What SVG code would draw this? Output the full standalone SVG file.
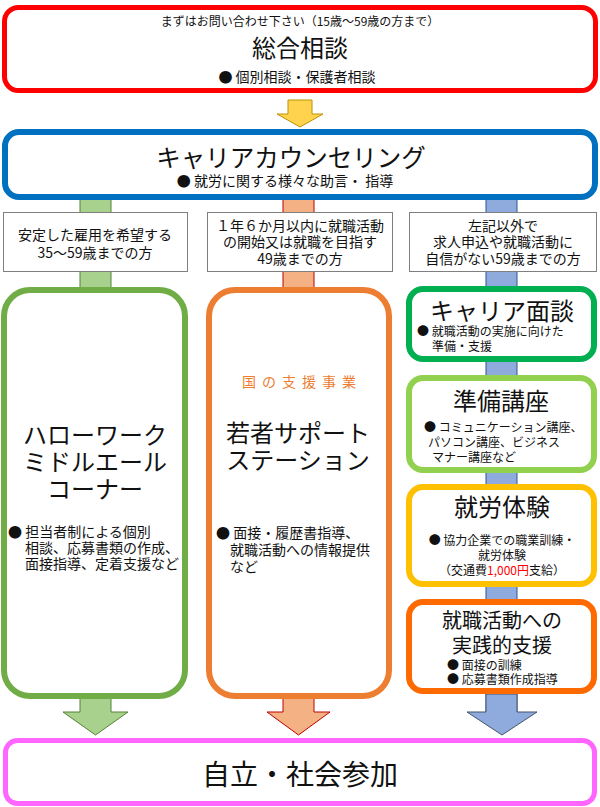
<svg xmlns="http://www.w3.org/2000/svg" width="600" height="807" viewBox="0 0 600 807">
<style>
text{font-family:"Noto Sans CJK JP","Noto Sans",sans-serif;fill:#111;}
.c{text-anchor:middle;}
.box{fill:#fff;}
.cond{fill:#fff;stroke:#7f7f7f;stroke-width:1;}
.s12{font-size:12px;}
.s14{font-size:14px;}
.s24{font-size:24px;}
</style>
<rect width="600" height="807" fill="#fff"/>
<g id="connectors">
  <polygon points="288,100 312,100 312,114 323,114 300,127 277,114 288,114" fill="#FFD34D" stroke="#BF9000" stroke-width="1"/>
  <rect x="80" y="198" width="31" height="94" fill="#A9D18E" stroke="#548235" stroke-width="1"/>
  <rect x="283" y="198" width="31" height="94" fill="#F4B183" stroke="#C00000" stroke-width="1"/>
  <rect x="486" y="198" width="31" height="516" fill="#8FAADC" stroke="#2F5597" stroke-width="1"/>
  <polygon points="80,696 111,696 111,712 128,712 95.5,735 63,712 80,712" fill="#A9D18E" stroke="#548235" stroke-width="1"/>
  <polygon points="283,696 314,696 314,712 330,712 298.5,735 267,712 283,712" fill="#F4B183" stroke="#C00000" stroke-width="1"/>
  <polygon points="486,694 517,694 517,712 537,712 502,735 467,712 486,712" fill="#8FAADC" stroke="#44546A" stroke-width="1"/>
</g>
<g id="sougou">
  <rect class="box" x="4.5" y="7.5" width="591" height="83" rx="14" stroke="#FF0000" stroke-width="5"/>
  <text class="c s12" x="300" y="26">まずはお問い合わせ下さい（15歳～59歳の方まで）</text>
  <text class="c s24" x="300" y="57">総合相談</text>
  <text class="c s14" x="297" y="82">● 個別相談・保護者相談</text>
</g>
<g id="career-counseling">
  <rect class="box" x="5" y="132" width="590" height="65" rx="14" stroke="#0070C0" stroke-width="6"/>
  <text class="c" x="291" y="167" font-size="24.5">キャリアカウンセリング</text>
  <text class="c s14" x="285" y="186">● 就労に関する様々な助言・ 指導</text>
</g>
<g id="cond1">
  <rect class="cond" x="3.5" y="212.5" width="184" height="59"/>
  <text class="c s14" x="95" y="240">安定した雇用を希望する</text>
  <text class="c s14" x="95" y="258">35～59歳までの方</text>
</g>
<g id="cond2">
  <rect class="cond" x="207.5" y="212.5" width="185" height="59"/>
  <text class="c s14" x="300" y="231">１年６か月以内に就職活動</text>
  <text class="c s14" x="300" y="247">の開始又は就職を目指す</text>
  <text class="c s14" x="300" y="264">49歳までの方</text>
</g>
<g id="cond3">
  <rect class="cond" x="409.5" y="212.5" width="187" height="59"/>
  <text class="c s14" x="503" y="231">左記以外で</text>
  <text class="c s14" x="503" y="247">求人申込や就職活動に</text>
  <text class="c s14" x="503" y="264">自信がない59歳までの方</text>
</g>
<g id="hellowork">
  <rect class="box" x="4" y="290" width="181" height="406" rx="26" stroke="#70AD47" stroke-width="6"/>
  <text class="c s24" x="95" y="444">ハローワーク</text>
  <text class="c s24" x="95" y="471">ミドルエール</text>
  <text class="c s24" x="95" y="498">コーナー</text>
  <text class="s14" x="8" y="537">● 担当者制による個別</text>
  <text class="s14" x="25" y="553">相談、応募書類の作成、</text>
  <text class="s14" x="25" y="569">面接指導、定着支援など</text>
</g>
<g id="saposute">
  <rect class="box" x="209" y="290" width="180" height="406" rx="26" stroke="#ED7D31" stroke-width="6"/>
  <text class="c s14" x="302" y="387" letter-spacing="6" style="fill:#ED7D31">国の支援事業</text>
  <text class="c s24" x="298" y="442">若者サポート</text>
  <text class="c s24" x="298" y="469">ステーション</text>
  <text class="s14" x="216" y="538">● 面接・履歴書指導、</text>
  <text class="s14" x="230" y="555">就職活動への情報提供</text>
  <text class="s14" x="230" y="572">など</text>
</g>
<g id="career-mendan">
  <rect class="box" x="409" y="289" width="185" height="70" rx="14" stroke="#00B050" stroke-width="6"/>
  <text class="c s24" x="502" y="320">キャリア面談</text>
  <text class="s12" x="417" y="336">● 就職活動の実施に向けた</text>
  <text class="s12" x="432" y="351">準備・支援</text>
</g>
<g id="junbi">
  <rect class="box" x="409" y="378" width="185" height="92" rx="14" stroke="#92D050" stroke-width="6"/>
  <text class="c s24" x="501" y="410">準備講座</text>
  <text class="s12" x="424" y="432">● コミュニケーション講座、</text>
  <text class="s12" x="428" y="447">パソコン講座、ビジネス</text>
  <text class="s12" x="432" y="462">マナー講座など</text>
</g>
<g id="shurou">
  <rect class="box" x="409" y="487" width="185" height="97" rx="14" stroke="#FFC000" stroke-width="6"/>
  <text class="c s24" x="502" y="516">就労体験</text>
  <text class="c s12" x="502" y="545">● 協力企業での職業訓練・</text>
  <text class="c s12" x="502" y="560">就労体験</text>
  <text class="c s12" x="502" y="575">（交通費<tspan style="fill:#FF0000">1,000円</tspan>支給）</text>
</g>
<g id="jissen">
  <rect class="box" x="409" y="602" width="185" height="89" rx="14" stroke="#FF6A00" stroke-width="6"/>
  <text class="c" x="502" y="628" font-size="20">就職活動への</text>
  <text class="c" x="502" y="653" font-size="20">実践的支援</text>
  <text class="s12" x="447" y="670">● 面接の訓練</text>
  <text class="s12" x="447" y="684">● 応募書類作成指導</text>
</g>
<g id="jiritsu">
  <rect class="box" x="5.5" y="740.5" width="589" height="63" rx="12" stroke="#FF66FF" stroke-width="5"/>
  <text class="c" x="300" y="785" font-size="28">自立・社会参加</text>
</g>
</svg>
